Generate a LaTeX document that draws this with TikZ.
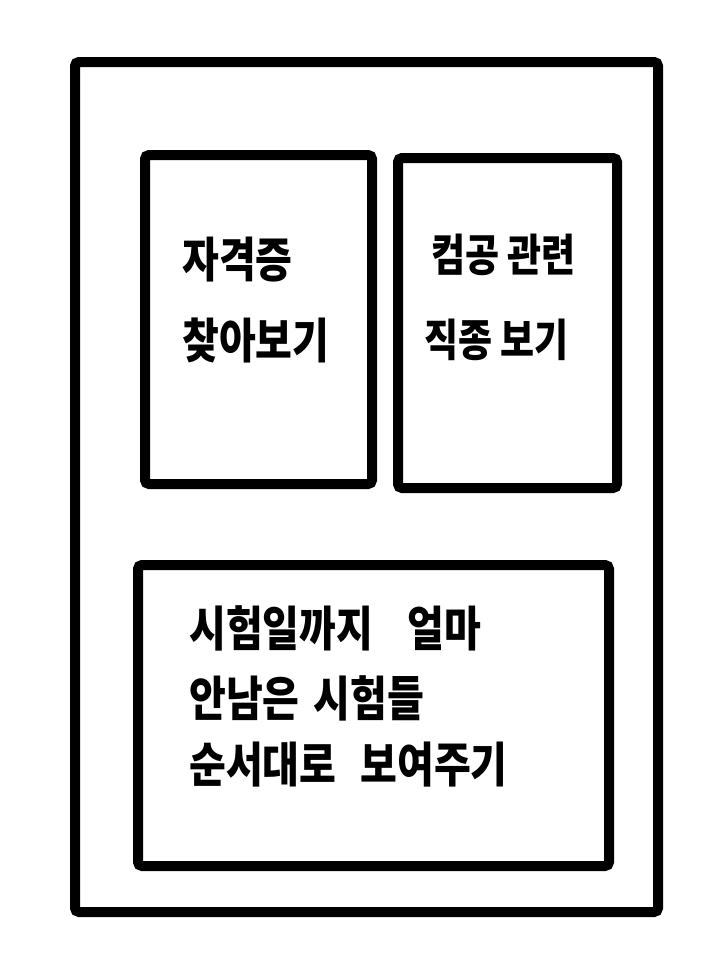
\documentclass[tikz,border=0pt]{standalone}
\usepackage{fontspec}
\newfontfamily\kr{Noto Sans CJK KR}
\tikzset{
  frame/.style={draw=black, line width=10pt, rounded corners=4pt},
  label/.style={anchor=west, font=\kr\bfseries\fontsize{40}{44}\selectfont, inner sep=0pt, yscale=1.2},
  smalllabel/.style={label, font=\kr\bfseries\fontsize{37}{40}\selectfont}
}
\begin{document}
\begin{tikzpicture}[x=1pt,y=-1pt]
\useasboundingbox (0,0) rectangle (723,970);
\fill[white] (0,0) rectangle (723,970);
\draw[frame] (75,62) rectangle (658,912);
\draw[frame] (145,155) rectangle (372,484);
\draw[frame] (398,158) rectangle (617,488);
\draw[frame] (138,565) rectangle (609,866);
\node[label] (a1) at (182,260) {자격증};
\node[label] (a2) at (182,340) {찾아보기};
\node[smalllabel] (b1) at (431,255) {컴공 관련};
\node[smalllabel] (b2) at (424,340) {직종 보기};
\node[label] (c1) at (189,628) {시험일까지\hspace{34pt}얼마};
\node[label] (c2) at (189,698) {안남은\hspace{14pt}시험들};
\node[label] (c3) at (189,765) {순서대로\hspace{24pt}보여주기};
\end{tikzpicture}
\end{document}
